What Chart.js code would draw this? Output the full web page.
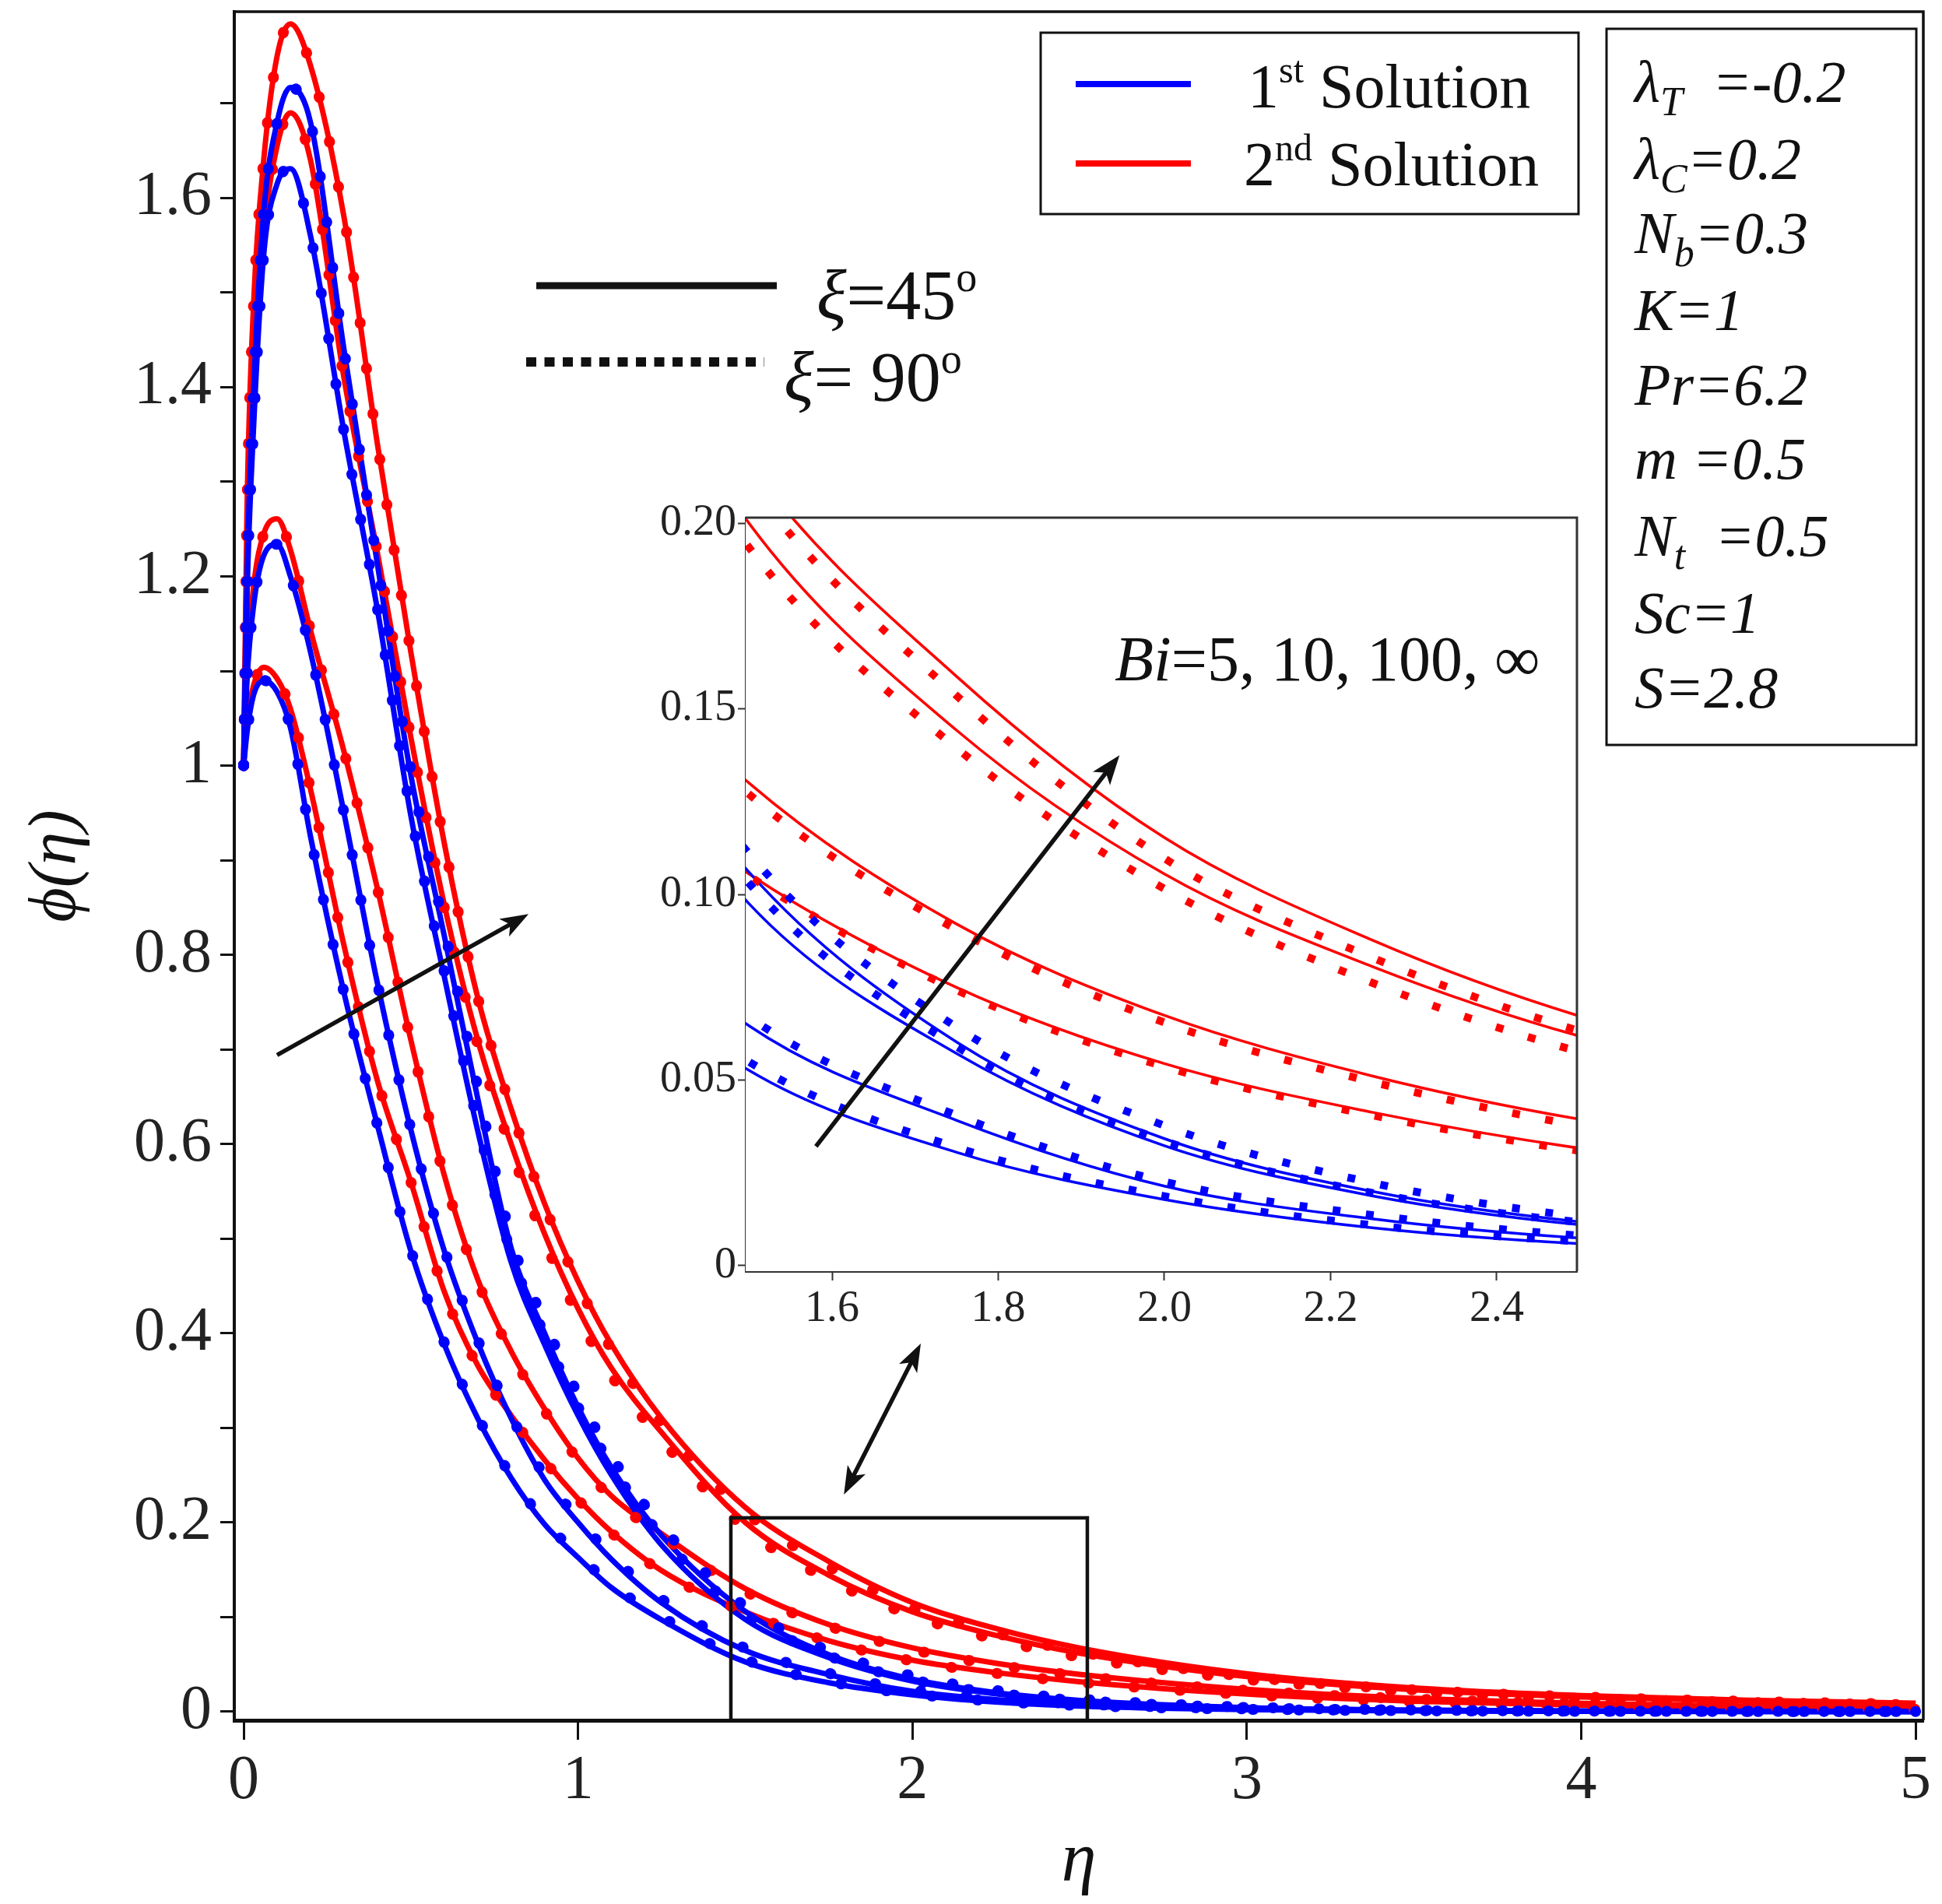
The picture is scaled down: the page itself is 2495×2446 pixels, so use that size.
<!DOCTYPE html>
<html>
<head>
<meta charset="utf-8">
<script src="https://cdn.jsdelivr.net/npm/chart.js@4.4.1/dist/chart.umd.min.js"></script>
<style>
  html, body { margin: 0; padding: 0; background: #fff; }
  #wrap { position: relative; width: 2495px; height: 2446px; }
  #main { position: absolute; left: 0; top: 0; }
  #inset { position: absolute; left: 830px; top: 640px; }
</style>
</head>
<body>
<div id="wrap">
  <canvas id="main" width="2495" height="2446"></canvas>
  <canvas id="inset" width="1220" height="1100"></canvas>
</div>
<script>
// ---- data: phi(eta) for Bi = 5, 10, 100, inf ----
const eta = [0, 0.01, 0.03, 0.06, 0.1, 0.14, 0.2, 0.3, 0.4, 0.5, 0.6, 0.7, 0.8, 0.9, 1.0, 1.1, 1.25,
             1.5, 1.75, 2.0, 2.25, 2.5, 3.0, 3.5, 4.0, 4.5, 5.0];

// 1st solution, xi = 45 deg
const blueBi5   = [1.0, 1.035, 1.075, 1.09, 1.078, 1.04, 0.925, 0.76, 0.62, 0.487, 0.388, 0.31, 0.247, 0.198, 0.163, 0.131, 0.097, 0.0526, 0.0305, 0.0178, 0.0102, 0.0059, 0.0021, 0.0008, 0.0003, 0.0001, 0.0];
const blueBi10  = [1.0, 1.09, 1.17, 1.222, 1.234, 1.2, 1.12, 0.95, 0.77, 0.615, 0.487, 0.39, 0.31, 0.245, 0.2, 0.161, 0.115, 0.0646, 0.0391, 0.0214, 0.0126, 0.0074, 0.0026, 0.0009, 0.0003, 0.0001, 0.0];
const blueBi100 = [1.0, 1.18, 1.36, 1.54, 1.615, 1.631, 1.56, 1.353, 1.165, 0.947, 0.777, 0.614, 0.475, 0.388, 0.313, 0.25, 0.176, 0.0975, 0.0571, 0.0323, 0.0188, 0.011, 0.0039, 0.0014, 0.0005, 0.0002, 0.0001];
const blueInf   = [1.0, 1.2, 1.4, 1.585, 1.68, 1.717, 1.68, 1.44, 1.213, 0.99, 0.82, 0.648, 0.49, 0.40, 0.322, 0.258, 0.186, 0.106, 0.0602, 0.0342, 0.020, 0.0118, 0.0042, 0.0015, 0.0006, 0.0002, 0.0001];
// 1st solution, xi = 90 deg
const blueBi5_90   = [1.0, 1.035, 1.075, 1.09, 1.078, 1.04, 0.925, 0.76, 0.62, 0.488, 0.39, 0.312, 0.249, 0.201, 0.166, 0.134, 0.1, 0.0549, 0.0318, 0.0187, 0.0109, 0.0065, 0.0024, 0.0009, 0.0003, 0.0001, 0.0];
const blueBi10_90  = [1.0, 1.09, 1.17, 1.222, 1.234, 1.2, 1.12, 0.95, 0.77, 0.616, 0.489, 0.393, 0.313, 0.249, 0.204, 0.165, 0.119, 0.067, 0.0405, 0.0226, 0.0136, 0.0081, 0.0029, 0.001, 0.0004, 0.0001, 0.0];
const blueBi100_90 = [1.0, 1.18, 1.36, 1.54, 1.615, 1.631, 1.56, 1.353, 1.166, 0.95, 0.782, 0.622, 0.484, 0.398, 0.322, 0.26, 0.185, 0.103, 0.059, 0.0336, 0.0196, 0.0117, 0.0042, 0.0015, 0.0006, 0.0002, 0.0001];
const blueInf_90   = [1.0, 1.2, 1.4, 1.585, 1.68, 1.717, 1.68, 1.44, 1.214, 0.995, 0.828, 0.66, 0.5, 0.412, 0.335, 0.27, 0.196, 0.111, 0.0642, 0.0377, 0.0223, 0.0132, 0.0048, 0.0017, 0.0006, 0.0002, 0.0001];

// 2nd solution, xi = 45 deg
const redBi5   = [1.0, 1.045, 1.085, 1.104, 1.092, 1.06, 0.975, 0.81, 0.667, 0.56, 0.444, 0.366, 0.313, 0.266, 0.225, 0.19, 0.149, 0.1055, 0.0749, 0.0544, 0.0413, 0.0316, 0.0185, 0.011, 0.0068, 0.0042, 0.0027];
const redBi10  = [1.0, 1.10, 1.19, 1.245, 1.261, 1.228, 1.143, 1.015, 0.87, 0.71, 0.567, 0.457, 0.381, 0.32, 0.268, 0.228, 0.188, 0.130, 0.092, 0.0674, 0.0511, 0.0394, 0.0235, 0.014, 0.0088, 0.0056, 0.0036];
const redBi100 = [1.0, 1.22, 1.40, 1.56, 1.655, 1.69, 1.64, 1.41, 1.225, 1.03, 0.853, 0.71, 0.60, 0.505, 0.426, 0.363, 0.295, 0.200, 0.1442, 0.1055, 0.0806, 0.0618, 0.037, 0.023, 0.0155, 0.011, 0.008];
const redInf   = [1.0, 1.27, 1.49, 1.64, 1.75, 1.784, 1.74, 1.58, 1.34, 1.12, 0.918, 0.755, 0.637, 0.537, 0.455, 0.388, 0.31, 0.216, 0.1587, 0.1153, 0.0877, 0.0672, 0.040, 0.025, 0.017, 0.012, 0.009];
// 2nd solution, xi = 90 deg
const redBi5_90   = [1.0, 1.045, 1.085, 1.104, 1.092, 1.06, 0.975, 0.81, 0.667, 0.56, 0.443, 0.365, 0.312, 0.265, 0.224, 0.189, 0.148, 0.105, 0.0742, 0.0536, 0.0405, 0.0309, 0.018, 0.0106, 0.0065, 0.004, 0.0026];
const redBi10_90  = [1.0, 1.10, 1.19, 1.245, 1.261, 1.228, 1.143, 1.015, 0.87, 0.709, 0.565, 0.455, 0.379, 0.318, 0.266, 0.226, 0.186, 0.127, 0.0905, 0.0655, 0.0495, 0.0377, 0.0224, 0.0133, 0.0083, 0.0053, 0.0034];
const redBi100_90 = [1.0, 1.22, 1.40, 1.56, 1.655, 1.69, 1.64, 1.41, 1.225, 1.03, 0.85, 0.705, 0.594, 0.498, 0.418, 0.355, 0.287, 0.1935, 0.1394, 0.1015, 0.0762, 0.0576, 0.034, 0.021, 0.014, 0.0098, 0.0071];
const redInf_90   = [1.0, 1.27, 1.49, 1.64, 1.75, 1.784, 1.74, 1.58, 1.34, 1.12, 0.918, 0.755, 0.637, 0.535, 0.452, 0.383, 0.305, 0.211, 0.1535, 0.1097, 0.083, 0.0632, 0.037, 0.023, 0.0155, 0.0108, 0.0078];

const mainYTicks = [0, 0.2, 0.4, 0.6, 0.8, 1, 1.2, 1.4, 1.6];

const BLUE = '#0000ff';
const RED = '#ff0000';
const INK = '#111111';
const SERIF = '"Liberation Serif", "Times New Roman", serif';
const font = (size, style) => (style ? style + ' ' : '') + size + 'px ' + SERIF;

const curves = [
  { color: BLUE, solid: blueBi5,   dotted: blueBi5_90 },
  { color: BLUE, solid: blueBi10,  dotted: blueBi10_90 },
  { color: BLUE, solid: blueBi100, dotted: blueBi100_90 },
  { color: BLUE, solid: blueInf,   dotted: blueInf_90 },
  { color: RED,  solid: redBi5,    dotted: redBi5_90 },
  { color: RED,  solid: redBi10,   dotted: redBi10_90 },
  { color: RED,  solid: redBi100,  dotted: redBi100_90 },
  { color: RED,  solid: redInf,    dotted: redInf_90 }
];

function pts(arr) {
  return eta.map((x, i) => ({ x: x, y: arr[i] }));
}

// dotted sets first so they sit on top (chart.js draws index 0 last)
function buildSets(lw, dotW, dash, cap, clip) {
  const dots = curves.map(c => ({
    data: pts(c.dotted), borderColor: c.color, borderWidth: dotW,
    borderDash: dash, borderCapStyle: cap, pointRadius: 0,
    cubicInterpolationMode: 'monotone', fill: false, clip: clip
  }));
  const lines = curves.map(c => ({
    data: pts(c.solid), borderColor: c.color, borderWidth: lw,
    pointRadius: 0, cubicInterpolationMode: 'monotone', fill: false, clip: clip
  }));
  return dots.concat(lines);
}

// keep the plot box exactly where the axes say, no label overhang padding
function fixBox(size, horizontal) {
  return s => {
    if (horizontal) s.height = size; else s.width = size;
    s.paddingTop = 0; s.paddingBottom = 0; s.paddingLeft = 0; s.paddingRight = 0;
  };
}

// ---- drawing helpers ----
function textRuns(ctx, x, y, parts) {
  let cx = x;
  ctx.textAlign = 'left';
  ctx.textBaseline = 'alphabetic';
  for (const p of parts) {
    ctx.font = p.f;
    ctx.fillText(p.t, cx, y + (p.dy || 0));
    cx += ctx.measureText(p.t).width;
  }
}

function arrow(ctx, x1, y1, x2, y2, lw, hl, hw, both) {
  const a = Math.atan2(y2 - y1, x2 - x1);
  const head = (x, y, ang) => {
    ctx.beginPath();
    ctx.moveTo(x, y);
    ctx.lineTo(x - hl * Math.cos(ang) + hw * Math.sin(ang), y - hl * Math.sin(ang) - hw * Math.cos(ang));
    ctx.lineTo(x - hl * 0.75 * Math.cos(ang), y - hl * 0.75 * Math.sin(ang));
    ctx.lineTo(x - hl * Math.cos(ang) - hw * Math.sin(ang), y - hl * Math.sin(ang) + hw * Math.cos(ang));
    ctx.closePath();
    ctx.fill();
  };
  ctx.beginPath();
  const s = both ? hl * 0.7 : 0;
  ctx.moveTo(x1 + s * Math.cos(a), y1 + s * Math.sin(a));
  ctx.lineTo(x2 - hl * 0.7 * Math.cos(a), y2 - hl * 0.7 * Math.sin(a));
  ctx.lineWidth = lw;
  ctx.stroke();
  head(x2, y2, a);
  if (both) head(x1, y1, a + Math.PI);
}

// ---- main chart annotations ----
const mainDecor = {
  id: 'mainDecor',
  afterDraw(chart) {
    const ctx = chart.ctx;
    const { left, right, top, bottom } = chart.chartArea;
    const xs = chart.scales.x, ys = chart.scales.y;
    ctx.save();
    ctx.strokeStyle = INK;
    ctx.fillStyle = INK;
    // top and right frame
    ctx.lineWidth = 3.5;
    ctx.beginPath();
    ctx.moveTo(left, top); ctx.lineTo(right, top); ctx.lineTo(right, bottom);
    ctx.stroke();

    // zoom window
    ctx.lineWidth = 4.5;
    const bx1 = xs.getPixelForValue(1.457), bx2 = xs.getPixelForValue(2.523);
    const by1 = ys.getPixelForValue(0.2048), by2 = ys.getPixelForValue(-0.0092);
    ctx.strokeRect(bx1, by1, bx2 - bx1, by2 - by1);

    // Bi arrow and link arrow
    ctx.lineCap = 'butt';
    arrow(ctx, xs.getPixelForValue(0.10), ys.getPixelForValue(0.694),
          xs.getPixelForValue(0.852), ys.getPixelForValue(0.843), 5.5, 36, 13, false);
    arrow(ctx, xs.getPixelForValue(1.795), ys.getPixelForValue(0.2295),
          xs.getPixelForValue(2.025), ys.getPixelForValue(0.389), 5.5, 36, 13, true);

    // xi legend
    ctx.lineWidth = 9;
    ctx.beginPath(); ctx.moveTo(689, 367); ctx.lineTo(998, 367); ctx.stroke();
    ctx.lineWidth = 12;
    ctx.setLineDash([13, 10.5]);
    ctx.beginPath(); ctx.moveTo(676, 465); ctx.lineTo(982, 465); ctx.stroke();
    ctx.setLineDash([]);
    textRuns(ctx, 1049, 410, [
      { t: '\u03BE', f: font(90, 'italic') }, { t: '=45', f: font(90) },
      { t: 'o', f: font(54), dy: -36 }]);
    textRuns(ctx, 1007, 515, [
      { t: '\u03BE', f: font(90, 'italic') }, { t: '= 90', f: font(90) },
      { t: 'o', f: font(54), dy: -36 }]);

    // solution legend
    ctx.lineWidth = 3;
    ctx.strokeRect(1337, 42, 691, 233);
    ctx.lineWidth = 8;
    ctx.strokeStyle = BLUE;
    ctx.beginPath(); ctx.moveTo(1382, 108); ctx.lineTo(1530, 108); ctx.stroke();
    ctx.strokeStyle = RED;
    ctx.beginPath(); ctx.moveTo(1382, 210); ctx.lineTo(1530, 210); ctx.stroke();
    ctx.fillStyle = INK;
    textRuns(ctx, 1603, 138, [
      { t: '1', f: font(80) }, { t: 'st', f: font(48), dy: -32 }, { t: ' Solution', f: font(80) }]);
    textRuns(ctx, 1598, 238, [
      { t: '2', f: font(80) }, { t: 'nd', f: font(48), dy: -32 }, { t: ' Solution', f: font(80) }]);

    // parameter box
    ctx.strokeStyle = INK;
    ctx.lineWidth = 3;
    ctx.strokeRect(2064, 37, 398, 920);
    const it = font(76, 'italic'), sub = font(52, 'italic');
    const params = [
      [{ t: '\u03BB', f: it }, { t: 'T', f: sub, dy: 17 }, { t: '  =-0.2', f: it }],
      [{ t: '\u03BB', f: it }, { t: 'C', f: sub, dy: 17 }, { t: '=0.2', f: it }],
      [{ t: 'N', f: it }, { t: 'b', f: sub, dy: 17 }, { t: '=0.3', f: it }],
      [{ t: 'K=1', f: it }],
      [{ t: 'Pr=6.2', f: it }],
      [{ t: 'm =0.5', f: it }],
      [{ t: 'N', f: it }, { t: 't', f: sub, dy: 17 }, { t: '  =0.5', f: it }],
      [{ t: 'Sc=1', f: it }],
      [{ t: 'S=2.8', f: it }]
    ];
    const baselines = [131, 230, 325, 424, 520, 615, 714, 813, 909];
    params.forEach((p, i) => textRuns(ctx, 2100, baselines[i], p));
    ctx.restore();
  }
};

// ---- inset annotations ----
const insetDecor = {
  id: 'insetDecor',
  beforeDatasetsDraw(chart) {
    const { left, right, top, bottom } = chart.chartArea;
    chart.ctx.save();
    chart.ctx.fillStyle = '#ffffff';
    chart.ctx.fillRect(left, top, right - left, bottom - top);
    chart.ctx.restore();
  },
  afterDraw(chart) {
    const ctx = chart.ctx;
    const { left, right, top, bottom } = chart.chartArea;
    const xs = chart.scales.x, ys = chart.scales.y;
    ctx.save();
    ctx.strokeStyle = '#333333';
    ctx.lineWidth = 3;
    ctx.beginPath();
    ctx.moveTo(left, top); ctx.lineTo(right, top); ctx.lineTo(right, bottom);
    ctx.stroke();
    ctx.strokeStyle = INK;
    ctx.fillStyle = INK;
    arrow(ctx, xs.getPixelForValue(1.5806), ys.getPixelForValue(0.0321),
          xs.getPixelForValue(1.946), ys.getPixelForValue(0.1375), 5.5, 38, 14, false);
    textRuns(ctx, xs.getPixelForValue(1.94), ys.getPixelForValue(0.1577), [
      { t: 'Bi', f: font(82, 'italic') }, { t: '=5, 10, 100, \u221E', f: font(82) }]);
    ctx.restore();
  }
};

window.addEventListener('load', () => {
  new Chart(document.getElementById('main').getContext('2d'), {
    type: 'line',
    data: { datasets: buildSets(7, 14, [1, 58], 'round', undefined) },
    options: {
      responsive: false,
      devicePixelRatio: 1,
      animation: false,
      layout: { padding: { left: 0, top: 15, right: 24, bottom: 0 } },
      plugins: { legend: { display: false }, tooltip: { enabled: false } },
      scales: {
        x: {
          type: 'linear', min: -0.028, max: 5.023,
          afterFit: fixBox(236, true),
          border: { display: true, width: 5, color: INK },
          grid: { drawOnChartArea: false, drawTicks: true, tickLength: 25, tickWidth: 3, tickColor: INK },
          ticks: { stepSize: 1, includeBounds: false, padding: 6, color: '#222',
                   font: { family: SERIF, size: 80 } },
          title: { display: true, text: '\u03B7', color: INK, padding: { top: 0, bottom: 0 },
                   font: { family: SERIF, size: 90, style: 'italic' } }
        },
        y: {
          type: 'linear', min: -0.0092, max: 1.797,
          afterFit: fixBox(301, false),
          border: { display: true, width: 4, color: INK },
          grid: { drawOnChartArea: false, drawTicks: true, tickLength: 18, tickWidth: 3, tickColor: INK },
          ticks: {
            stepSize: 0.1, includeBounds: false, padding: 11, color: '#222',
            font: { family: SERIF, size: 80 },
            callback: v => {
              const hit = mainYTicks.find(t => Math.abs(t - v) < 1e-6);
              return hit === undefined ? '' : String(hit);
            }
          },
          title: { display: true, text: '\u03D5(\u03B7)', color: INK, padding: { top: 22, bottom: 0 },
                   font: { family: SERIF, size: 86, style: 'italic' } }
        }
      }
    },
    plugins: [mainDecor]
  });

  new Chart(document.getElementById('inset').getContext('2d'), {
    type: 'line',
    data: { datasets: buildSets(3.5, 10, [10, 33], 'butt', 0) },
    options: {
      responsive: false,
      devicePixelRatio: 1,
      animation: false,
      layout: { padding: { left: 0, top: 25, right: 24, bottom: 0 } },
      plugins: { legend: { display: false }, tooltip: { enabled: false } },
      scales: {
        x: {
          type: 'linear', min: 1.496, max: 2.4966,
          afterFit: fixBox(107, true),
          border: { display: true, width: 3, color: '#333' },
          grid: { drawOnChartArea: false, drawTicks: true, tickLength: 12, tickWidth: 2, tickColor: '#333' },
          ticks: { stepSize: 0.2, includeBounds: false, padding: 4, color: '#222',
                   font: { family: SERIF, size: 56 }, callback: v => v.toFixed(1) }
        },
        y: {
          type: 'linear', min: -0.0015, max: 0.2015,
          afterFit: fixBox(128, false),
          border: { display: true, width: 3, color: '#333' },
          grid: { drawOnChartArea: false, drawTicks: true, tickLength: 10, tickWidth: 2, tickColor: '#333' },
          ticks: { stepSize: 0.05, includeBounds: false, padding: 2, color: '#222',
                   font: { family: SERIF, size: 56 },
                   callback: v => (Math.abs(v) < 1e-9 ? '0' : v.toFixed(2)) }
        }
      }
    },
    plugins: [insetDecor]
  });
});
</script>
</body>
</html>
